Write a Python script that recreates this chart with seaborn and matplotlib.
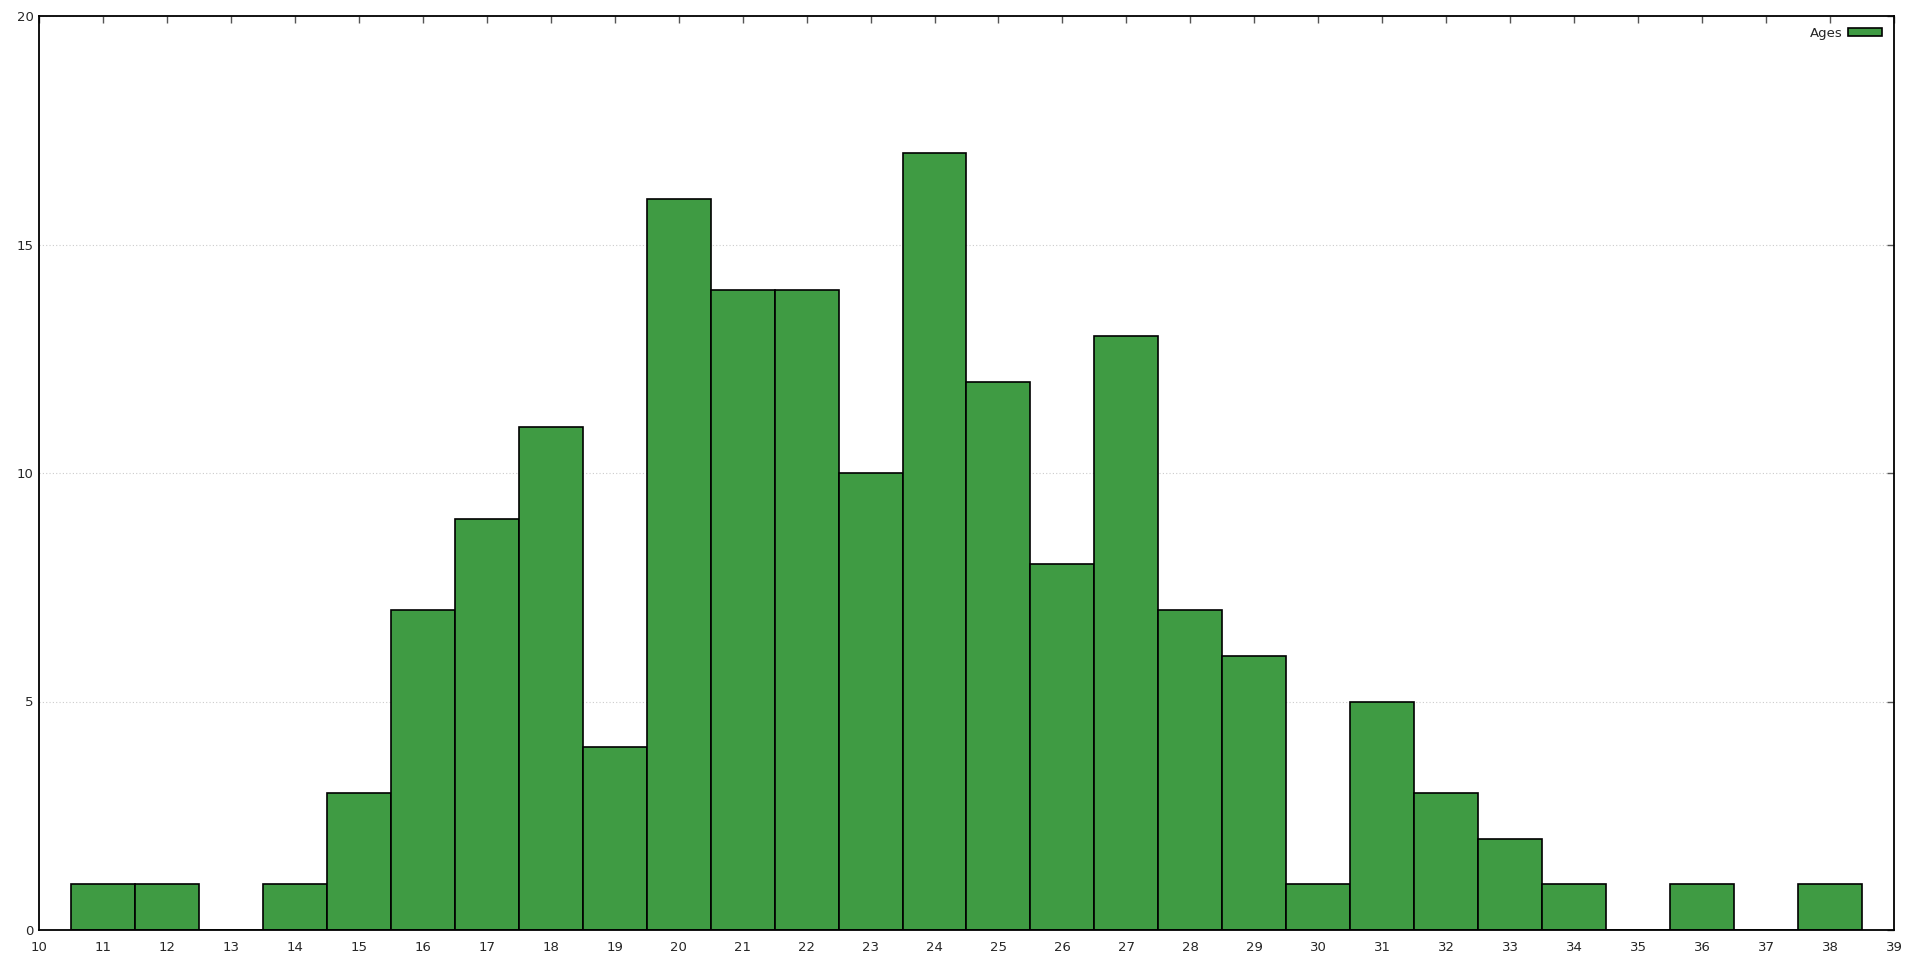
import numpy as np
import pandas as pd
import seaborn as sns
from matplotlib import pyplot as plt

ages = [11, 12, 13, 14, 15, 16, 17, 18, 19, 20, 21, 22, 23, 24,
        25, 26, 27, 28, 29, 30, 31, 32, 33, 34, 35, 36, 37, 38]
counts = [1, 1, 0, 1, 3, 7, 9, 11, 4, 16, 14, 14, 10, 17,
          12, 8, 13, 7, 6, 1, 5, 3, 2, 1, 0, 1, 0, 1]
x_ticks = list(range(10, 40))
y_ticks = [0, 5, 10, 15, 20]

data = pd.DataFrame({'Age': ages, 'Count': counts})

sns.set_style('white')
plt.rcParams['font.family'] = ['DejaVu Sans']

fig = plt.figure(figsize=(19.16, 9.6), dpi=100)
ax = fig.add_axes([39 / 1916, 1 - 930 / 960, (1894 - 39) / 1916, (930 - 16) / 960])

sns.histplot(data=data, x='Age', weights='Count', discrete=True,
             color='#3f9b43', alpha=1, edgecolor='black', linewidth=1.2,
             label='Ages', ax=ax)

ax.set_xlim(10, 39)
ax.set_ylim(0, 20)
ax.set_xticks(x_ticks)
ax.set_yticks(y_ticks)
ax.set_xlabel('')
ax.set_ylabel('')
ax.tick_params(direction='in', top=True, right=True, length=5, width=1,
               labelsize=9.5, color='#555555', pad=8)
ax.tick_params(axis='y', pad=4)
ax.yaxis.grid(True, linestyle=(0, (1, 2)), color='#cccccc', linewidth=0.8)
ax.set_axisbelow(True)
for s in ax.spines.values():
    s.set_color('black')
    s.set_linewidth(1.3)

ax.legend(loc='upper right', markerfirst=False, frameon=False, fontsize=9.5,
          handlelength=2.6, handleheight=0.6, handletextpad=0.4,
          borderaxespad=0.1, borderpad=0.3, bbox_to_anchor=(0.9965, 0.994))

fig.savefig('out.png', dpi=100)
